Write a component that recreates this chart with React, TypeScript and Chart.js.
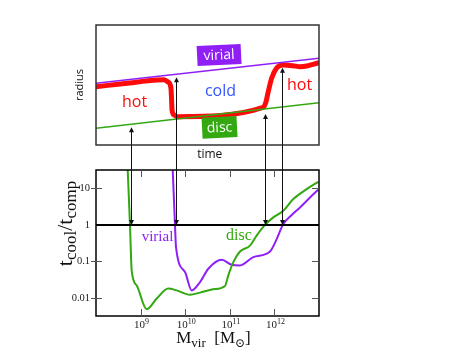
import React, { useEffect, useRef } from 'react';
import { Chart, registerables } from 'chart.js';
Chart.register(...registerables);

// ---------- bottom panel (log-log) ----------
const massTicks = [1e9, 1e10, 1e11, 1e12];
const massTickExponents = ['9', '10', '11', '12'];
const ratioTicks = [0.01, 0.1, 1, 10];
const ratioTickLabels = ['0.01', '0.1', '1', '10'];

const discMass = [5.14e8, 5.78e8, 6.31e8, 8.18e8, 1.37e9, 2.3e9, 4.18e9, 6.44e9, 1.28e10, 2.15e10, 4.2e10, 7.8e10, 9.25e10, 1.2e11, 1.69e11, 2.84e11, 4.0e11, 6.15e11, 9.44e11, 1.58e12, 2.65e12, 5.3e12, 9.6e12];
const discRatio = [32, 1.02, 0.057, 0.022, 0.0049, 0.0096, 0.018, 0.0161, 0.0123, 0.014, 0.0172, 0.0212, 0.0414, 0.0955, 0.187, 0.272, 0.51, 1.0, 1.61, 2.45, 5.12, 9.6, 15.2];

const virialMass = [5.25e9, 5.9e9, 6.22e9, 9.9e9, 1.4e10, 2.15e10, 3.3e10, 6.58e10, 1.1e11, 1.69e11, 3.37e11, 7.96e11, 1.13e12, 1.58e12, 2.44e12, 3.75e12, 6.28e12, 9.6e12];
const virialRatio = [32, 1.02, 0.245, 0.051, 0.0161, 0.0272, 0.063, 0.111, 0.081, 0.0776, 0.131, 0.187, 0.415, 1.06, 1.87, 3.02, 5.66, 9.2];

const unityMass = [1e8, 1e13];
const unityRatio = [1, 1];

// ---------- top panel (schematic radius vs time) ----------
const timeEnds = [0, 100];
const virialRadius = [51.4, 72.25];
const discRadius = [13.9, 35.25];
const gasTime = [0, 13.0, 27.4, 30.5, 32.3, 33.6, 33.9, 34.1, 35.0, 36.8, 75.0, 76.2, 77.1, 78.8, 81.0, 83.9, 88.3, 91.5, 94.5, 97.3, 100];
const gasRadius = [48.6, 51.25, 54.2, 54.3, 52.5, 47.5, 37.5, 29.2, 25, 23.6, 31.4, 35.8, 43.3, 55.8, 64.2, 66.7, 66.1, 65.25, 65.8, 67.25, 68.6];

// arrows linking transitions (mass where ratio = 1) to the schematic
const arrowMass = [6.1e8, 6.2e9, 6.15e11, 1.48e12];
const arrowRadius = [14.75, 56.4, 25.8, 64.4];

const PURPLE = '#8f1ff5';
const GREEN = '#33a811';
const RED = '#ff0a0a';
const SERIF = "'Liberation Serif', 'DejaVu Serif', serif";
const SANS = "'Open Sans', 'DejaVu Sans', sans-serif";

const pts = (xs: number[], ys: number[]) => xs.map((x, i) => ({ x, y: ys[i] }));

type Seg = { t: string; size: number; dy: number };
function drawRich(ctx: CanvasRenderingContext2D, segs: Seg[], cx: number, baseY: number, family: string, color: string) {
  let total = 0;
  const widths = segs.map((s) => {
    ctx.font = `${s.size}px ${family}`;
    const w = ctx.measureText(s.t).width;
    total += w;
    return w;
  });
  let xx = cx - total / 2;
  ctx.fillStyle = color;
  ctx.textAlign = 'left';
  ctx.textBaseline = 'alphabetic';
  segs.forEach((s, i) => {
    ctx.font = `${s.size}px ${family}`;
    ctx.fillText(s.t, xx, baseY + s.dy);
    xx += widths[i];
  });
}

function line(ctx: CanvasRenderingContext2D, x1: number, y1: number, x2: number, y2: number) {
  ctx.beginPath();
  ctx.moveTo(x1, y1);
  ctx.lineTo(x2, y2);
  ctx.stroke();
}

function head(ctx: CanvasRenderingContext2D, x: number, y: number, dir: number) {
  ctx.beginPath();
  ctx.moveTo(x, y);
  ctx.lineTo(x - 2.5, y - dir * 5);
  ctx.lineTo(x + 2.5, y - dir * 5);
  ctx.closePath();
  ctx.fill();
}

function labelBox(ctx: CanvasRenderingContext2D, cx: number, cy: number, w: number, h: number, angle: number, color: string, text: string) {
  ctx.save();
  ctx.translate(cx, cy);
  ctx.rotate(angle);
  ctx.fillStyle = color;
  ctx.fillRect(-w / 2, -h / 2, w, h);
  ctx.fillStyle = '#fff';
  ctx.font = `14px ${SANS}`;
  ctx.textAlign = 'center';
  ctx.textBaseline = 'middle';
  ctx.fillText(text, 0, 0.5);
  ctx.restore();
}

const overlay = {
  id: 'overlay',
  afterDatasetsDraw(chart: any) {
    const ctx: CanvasRenderingContext2D = chart.ctx;
    const x = chart.scales.x;
    const y = chart.scales.y;
    const xt = chart.scales.xt;
    const yr = chart.scales.yr;
    const yg = chart.scales.ygap;
    ctx.save();

    // frames
    ctx.lineWidth = 1.5;
    ctx.strokeStyle = '#333';
    ctx.strokeRect(x.left, yr.top, x.right - x.left, yr.bottom - yr.top);
    ctx.strokeStyle = '#000';
    ctx.strokeRect(x.left, y.top, x.right - x.left, y.bottom - y.top);

    // tick marks
    ctx.lineWidth = 1;
    ctx.strokeStyle = '#555';
    massTicks.forEach((v) => {
      const px = Math.round(x.getPixelForValue(v)) + 0.5;
      line(ctx, px, y.bottom, px, y.bottom - 7);
      line(ctx, px, y.top, px, y.top + 7);
    });
    ratioTicks.forEach((v) => {
      if (v === 1) return;
      const py = Math.round(y.getPixelForValue(v)) + 0.5;
      line(ctx, x.left - 5, py, x.left + 6, py);
      line(ctx, x.right - 7, py, x.right, py);
    });

    // x tick labels with superscripts
    massTicks.forEach((v, i) => {
      const px = x.getPixelForValue(v);
      drawRich(ctx, [
        { t: '10', size: 11, dy: 0 },
        { t: massTickExponents[i], size: 8, dy: -4 },
      ], px + 1, y.bottom + 12, SERIF, '#222');
    });

    // arrows
    ctx.strokeStyle = '#111';
    ctx.fillStyle = '#111';
    ctx.lineWidth = 1;
    arrowMass.forEach((m, i) => {
      const px = Math.round(x.getPixelForValue(m)) + 0.5;
      const top = yr.getPixelForValue(arrowRadius[i]);
      const bot = y.getPixelForValue(1);
      line(ctx, px, top + 2, px, bot - 2);
      head(ctx, px, top, -1);
      head(ctx, px, bot, 1);
    });

    // top panel labels
    ctx.textAlign = 'center';
    ctx.textBaseline = 'middle';
    ctx.font = `16px ${SANS}`;
    ctx.fillStyle = RED;
    ctx.fillText('hot', xt.getPixelForValue(17.3), yr.getPixelForValue(35.8));
    ctx.fillText('hot', xt.getPixelForValue(91.3), yr.getPixelForValue(50));
    ctx.fillStyle = '#3355ff';
    ctx.fillText('cold', xt.getPixelForValue(55.8), yr.getPixelForValue(44.4));
    labelBox(ctx, xt.getPixelForValue(55.2), yr.getPixelForValue(75), 44, 20, -0.05, PURPLE, 'virial');
    labelBox(ctx, xt.getPixelForValue(55.4), yr.getPixelForValue(14.6), 35, 21, -0.05, GREEN, 'disc');

    ctx.fillStyle = '#111';
    ctx.font = `12px ${SANS}`;
    ctx.fillText('time', xt.getPixelForValue(51), yg.getPixelForValue(0.6));
    ctx.save();
    ctx.translate(x.left - 16, (yr.top + yr.bottom) / 2);
    ctx.rotate(-Math.PI / 2);
    ctx.font = `11px ${SANS}`;
    ctx.fillText('radius', 0, 0);
    ctx.restore();

    // bottom panel labels
    ctx.font = `15px ${SERIF}`;
    ctx.fillStyle = PURPLE;
    ctx.fillText('virial', x.getPixelForValue(2.39e9), y.getPixelForValue(0.46));
    ctx.font = `16px ${SERIF}`;
    ctx.fillStyle = GREEN;
    ctx.fillText('disc', x.getPixelForValue(1.6e11), y.getPixelForValue(0.49));

    // axis titles
    drawRich(ctx, [
      { t: 'M', size: 17, dy: 0 },
      { t: 'vir', size: 13, dy: 4 },
      { t: '  [M', size: 17, dy: 0 },
      { t: '\u2299', size: 12, dy: 4 },
      { t: ']', size: 17, dy: 0 },
    ], (x.left + x.right) / 2 + 6, y.bottom + 27, SERIF, '#111');

    ctx.save();
    ctx.translate(x.left - 24, 223.5);
    ctx.rotate(-Math.PI / 2);
    drawRich(ctx, [
      { t: 't', size: 22, dy: 0 },
      { t: 'cool', size: 17, dy: 3.5 },
      { t: '/t', size: 22, dy: 0 },
      { t: 'comp', size: 17, dy: 3.5 },
    ], 0, 0, SERIF, '#111');
    ctx.restore();

    ctx.restore();
  },
};

export default function App() {
  const ref = useRef<HTMLCanvasElement>(null);
  useEffect(() => {
    const canvas = ref.current!;
    const common = { pointRadius: 0, pointHoverRadius: 0, fill: false };
    const chart = new Chart(canvas, {
      type: 'line',
      data: {
        datasets: [
          { ...common, label: 'unity', data: pts(unityMass, unityRatio), xAxisID: 'x', yAxisID: 'y', borderColor: '#000', borderWidth: 2 },
          { ...common, label: 'disc', data: pts(discMass, discRatio), xAxisID: 'x', yAxisID: 'y', borderColor: GREEN, borderWidth: 2, cubicInterpolationMode: 'monotone' },
          { ...common, label: 'virial', data: pts(virialMass, virialRatio), xAxisID: 'x', yAxisID: 'y', borderColor: PURPLE, borderWidth: 2, cubicInterpolationMode: 'monotone' },
          { ...common, label: 'virial radius', data: pts(timeEnds, virialRadius), xAxisID: 'xt', yAxisID: 'yr', borderColor: PURPLE, borderWidth: 1.5 },
          { ...common, label: 'disc radius', data: pts(timeEnds, discRadius), xAxisID: 'xt', yAxisID: 'yr', borderColor: GREEN, borderWidth: 1.5 },
          { ...common, label: 'gas', data: pts(gasTime, gasRadius), xAxisID: 'xt', yAxisID: 'yr', borderColor: RED, borderWidth: 5, cubicInterpolationMode: 'monotone', borderJoinStyle: 'round', borderCapStyle: 'round' },
        ],
      } as any,
      options: {
        animation: false,
        responsive: false,
        devicePixelRatio: 1,
        events: [],
        layout: { padding: { left: 0, right: 134, top: 25, bottom: 0 } },
        plugins: { legend: { display: false }, tooltip: { enabled: false }, title: { display: false } },
        scales: {
          x: {
            type: 'logarithmic', position: 'bottom', min: 1e8, max: 1e13,
            grid: { display: false, drawTicks: false }, border: { display: false },
            ticks: { display: false },
            afterBuildTicks: (s: any) => { s.ticks = massTicks.map((v) => ({ value: v })); },
            afterFit: (s: any) => { s.height = 43; },
          },
          xt: {
            type: 'linear', position: 'bottom', min: 0, max: 100, display: false,
          },
          y: {
            type: 'logarithmic', position: 'left', min: 0.0032, max: 32,
            stack: 'v', stackWeight: 146, weight: 0,
            grid: { display: false, drawTicks: false }, border: { display: false },
            ticks: {
              autoSkip: false, padding: 6, color: '#222',
              font: { family: SERIF, size: 10.5 },
              callback: (v: any) => { const i = ratioTicks.indexOf(Number(v)); return i >= 0 ? ratioTickLabels[i] : ''; },
            },
            afterBuildTicks: (s: any) => { s.ticks = ratioTicks.map((v) => ({ value: v })); },
            afterFit: (s: any) => { s.width = 96; },
          },
          ygap: {
            type: 'linear', position: 'left', min: 0, max: 1,
            stack: 'v', stackWeight: 25, weight: 1,
            grid: { display: false, drawTicks: false }, border: { display: false }, ticks: { display: false },
            afterFit: (s: any) => { s.width = 96; },
          },
          yr: {
            type: 'linear', position: 'left', min: 0, max: 100,
            stack: 'v', stackWeight: 120, weight: 2,
            grid: { display: false, drawTicks: false }, border: { display: false }, ticks: { display: false },
            afterFit: (s: any) => { s.width = 96; },
          },
        },
      } as any,
      plugins: [overlay],
    });
    return () => chart.destroy();
  }, []);
  return (
    <div style={{ position: 'absolute', left: 0, top: 0, width: 453, height: 359, background: '#fff' }}>
      <canvas ref={ref} width={453} height={359} style={{ width: 453, height: 359, display: 'block' }} />
    </div>
  );
}
